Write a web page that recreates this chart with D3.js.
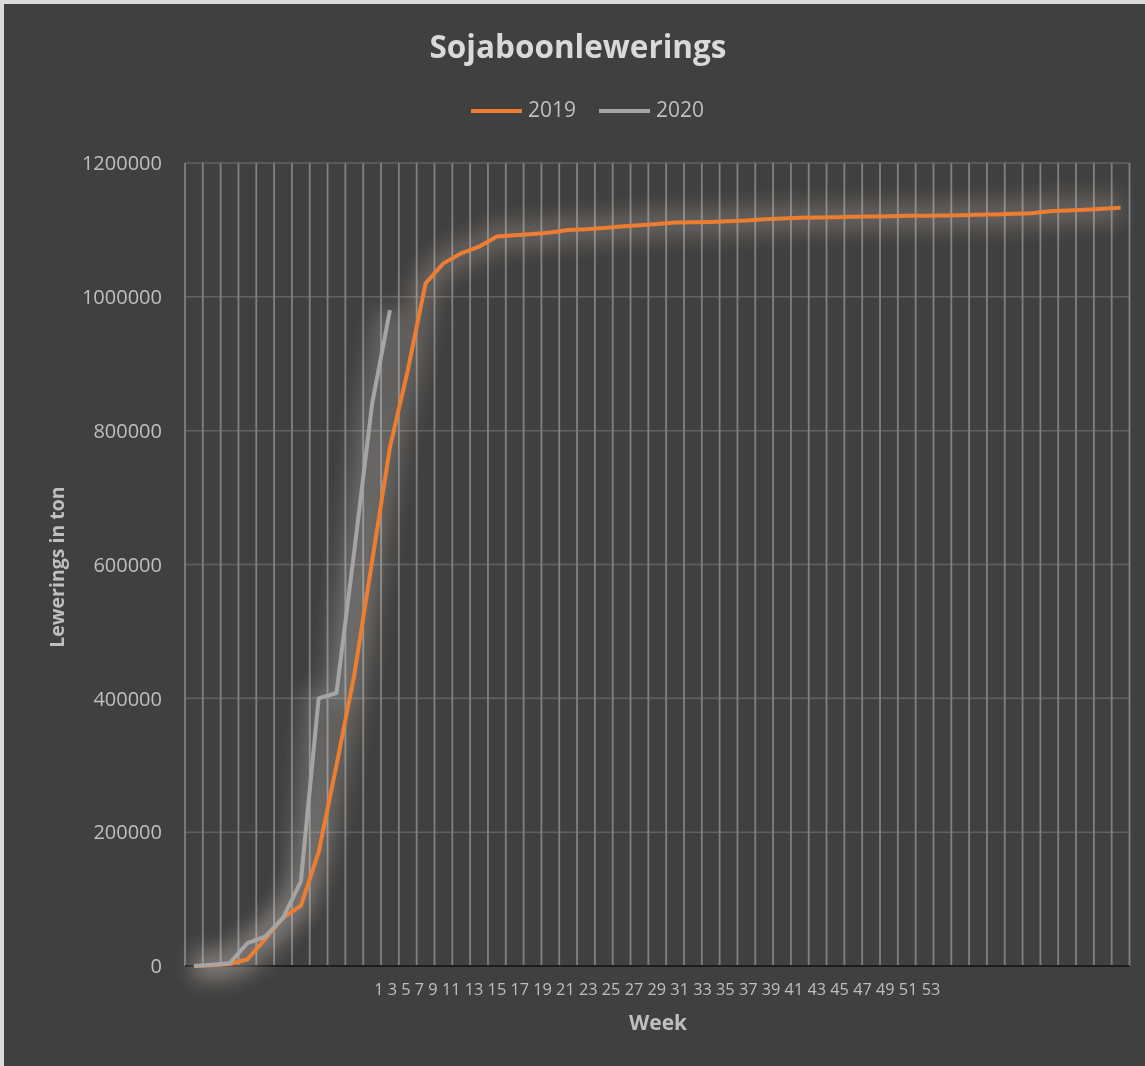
<!DOCTYPE html>
<html>
<head>
<meta charset="utf-8">
<script src="https://cdn.jsdelivr.net/npm/d3@7"></script>
<style>
  html, body { margin: 0; padding: 0; background: #dcdcdc; }
  svg { display: block; }
  text { font-family: "Open Sans", "Noto Sans", sans-serif; }
</style>
</head>
<body>
<script>
// ---- data ----
const weeks = d3.range(1, 54); // 53 category slots
const series2019 = [
  0, 1000, 3000, 10000, 40000, 72000, 90000, 170000, 300000, 435000,
  605000, 775000, 890000, 1020000, 1050000, 1065000, 1075000, 1090000, 1092000, 1094000,
  1096000, 1100000, 1101000, 1103000, 1105000, 1107000, 1109000, 1111000, 1111500, 1112000,
  1113000, 1114000, 1116000, 1117000, 1118000, 1118500, 1119000, 1119500, 1120000, 1120500,
  1121000, 1121200, 1121500, 1122000, 1122500, 1123000, 1124000, 1125000, 1128000, 1129000,
  1130000, 1131500, 1133000
];
const series2020 = [
  0, 2000, 4000, 34000, 44000, 72000, 126000, 400000, 408000, 620000, 840000, 980000
];
const yTicks = [0, 200000, 400000, 600000, 800000, 1000000, 1200000];
const xTickLabels = ["1","3","5","7","9","11","13","15","17","19","21","23","25","27","29","31","33","35","37","39","41","43","45","47","49","51","53"];
const seriesNames = ["2019", "2020"];
const seriesColors = ["#ed7d31", "#a5a5a5"];

// ---- layout ----
const W = 1145, H = 1066;
const plot = { left: 185, right: 1129.5, top: 163, bottom: 966 };

const svg = d3.select("body").append("svg").attr("width", W).attr("height", H);

const defs = svg.append("defs");
defs.append("filter").attr("id", "glow")
  .attr("filterUnits", "userSpaceOnUse")
  .attr("x", 0).attr("y", 0).attr("width", W).attr("height", H)
  .append("feGaussianBlur").attr("stdDeviation", 10);

svg.append("rect").attr("x", 4).attr("y", 4).attr("width", W - 4).attr("height", H - 4)
  .attr("fill", "#404040");

const x = d3.scaleBand().domain(weeks).range([plot.left, plot.right]).paddingInner(0).paddingOuter(0);
const y = d3.scaleLinear().domain([0, 1200000]).range([plot.bottom, plot.top]);
const cx = i => x(weeks[i]) + x.bandwidth() / 2;

// horizontal gridlines
svg.append("g").selectAll("line").data(yTicks.filter(d => d > 0)).join("line")
  .attr("x1", plot.left).attr("x2", plot.right)
  .attr("y1", d => y(d)).attr("y2", d => y(d))
  .attr("stroke", "#626262").attr("stroke-width", 1.5);

// vertical gridlines at category boundaries
const bounds = weeks.map(w => x(w)).concat([x(weeks[weeks.length - 1]) + x.bandwidth()]);
svg.append("g").selectAll("line").data(bounds).join("line")
  .attr("x1", d => d).attr("x2", d => d)
  .attr("y1", plot.top).attr("y2", plot.bottom)
  .attr("stroke", "#808080").attr("stroke-width", 1.8);

// x axis line
svg.append("line").attr("x1", plot.left).attr("x2", plot.right)
  .attr("y1", y(0)).attr("y2", y(0))
  .attr("stroke", "#1e1e1e").attr("stroke-width", 2);

// lines
const allSeries = [series2019, series2020];
const lineGen = d3.line().x((d, i) => cx(i)).y(d => y(d));

// soft glow
svg.append("g").style("mix-blend-mode", "screen").selectAll("path").data(allSeries).join("path")
  .attr("d", d => lineGen(d))
  .attr("fill", "none")
  .attr("stroke", (d, i) => i === 0 ? "#7a6e66" : "#7a7a7a")
  .attr("stroke-width", 28)
  .attr("stroke-linejoin", "round")
  .attr("stroke-opacity", 0.4)
  .attr("filter", "url(#glow)");

svg.append("g").selectAll("path").data([0, 1]).join("path")
  .attr("d", i => lineGen(allSeries[i]))
  .attr("fill", "none")
  .attr("stroke", i => seriesColors[i])
  .attr("stroke-width", 4)
  .attr("stroke-linejoin", "round")
  .attr("stroke-linecap", "butt");

// y tick labels
svg.append("g").selectAll("text").data(yTicks).join("text")
  .attr("x", 162).attr("y", d => y(d)).attr("dy", "0.36em")
  .attr("text-anchor", "end")
  .attr("font-size", 20).attr("fill", "#bfbfbf")
  .text(d => d);

// x tick labels (rendered as one centered run, like the reference)
svg.append("text")
  .attr("x", (plot.left + plot.right) / 2).attr("y", 995)
  .attr("text-anchor", "middle")
  .attr("font-size", 16.3).attr("fill", "#bfbfbf")
  .attr("xml:space", "preserve")
  .text(xTickLabels.join(" "));

// title
svg.append("text").attr("x", 578).attr("y", 58).attr("text-anchor", "middle")
  .attr("font-size", 31.5).attr("font-weight", "bold").attr("fill", "#d9d9d9")
  .text("Sojaboonlewerings");

// legend
const legendX = [471, 599];
seriesNames.forEach((name, i) => {
  svg.append("line").attr("x1", legendX[i]).attr("x2", legendX[i] + 51)
    .attr("y1", 111).attr("y2", 111)
    .attr("stroke", seriesColors[i]).attr("stroke-width", 4);
  svg.append("text").attr("x", legendX[i] + 57).attr("y", 117)
    .attr("font-size", 21).attr("fill", "#bfbfbf").text(name);
});

// axis titles
svg.append("text").attr("transform", "translate(64,567) rotate(-90)")
  .attr("text-anchor", "middle").attr("font-size", 19.5).attr("font-weight", "bold")
  .attr("fill", "#bfbfbf").text("Lewerings in ton");

svg.append("text").attr("x", 658).attr("y", 1030).attr("text-anchor", "middle")
  .attr("font-size", 21).attr("font-weight", "bold").attr("fill", "#bfbfbf")
  .text("Week");
</script>
</body>
</html>
